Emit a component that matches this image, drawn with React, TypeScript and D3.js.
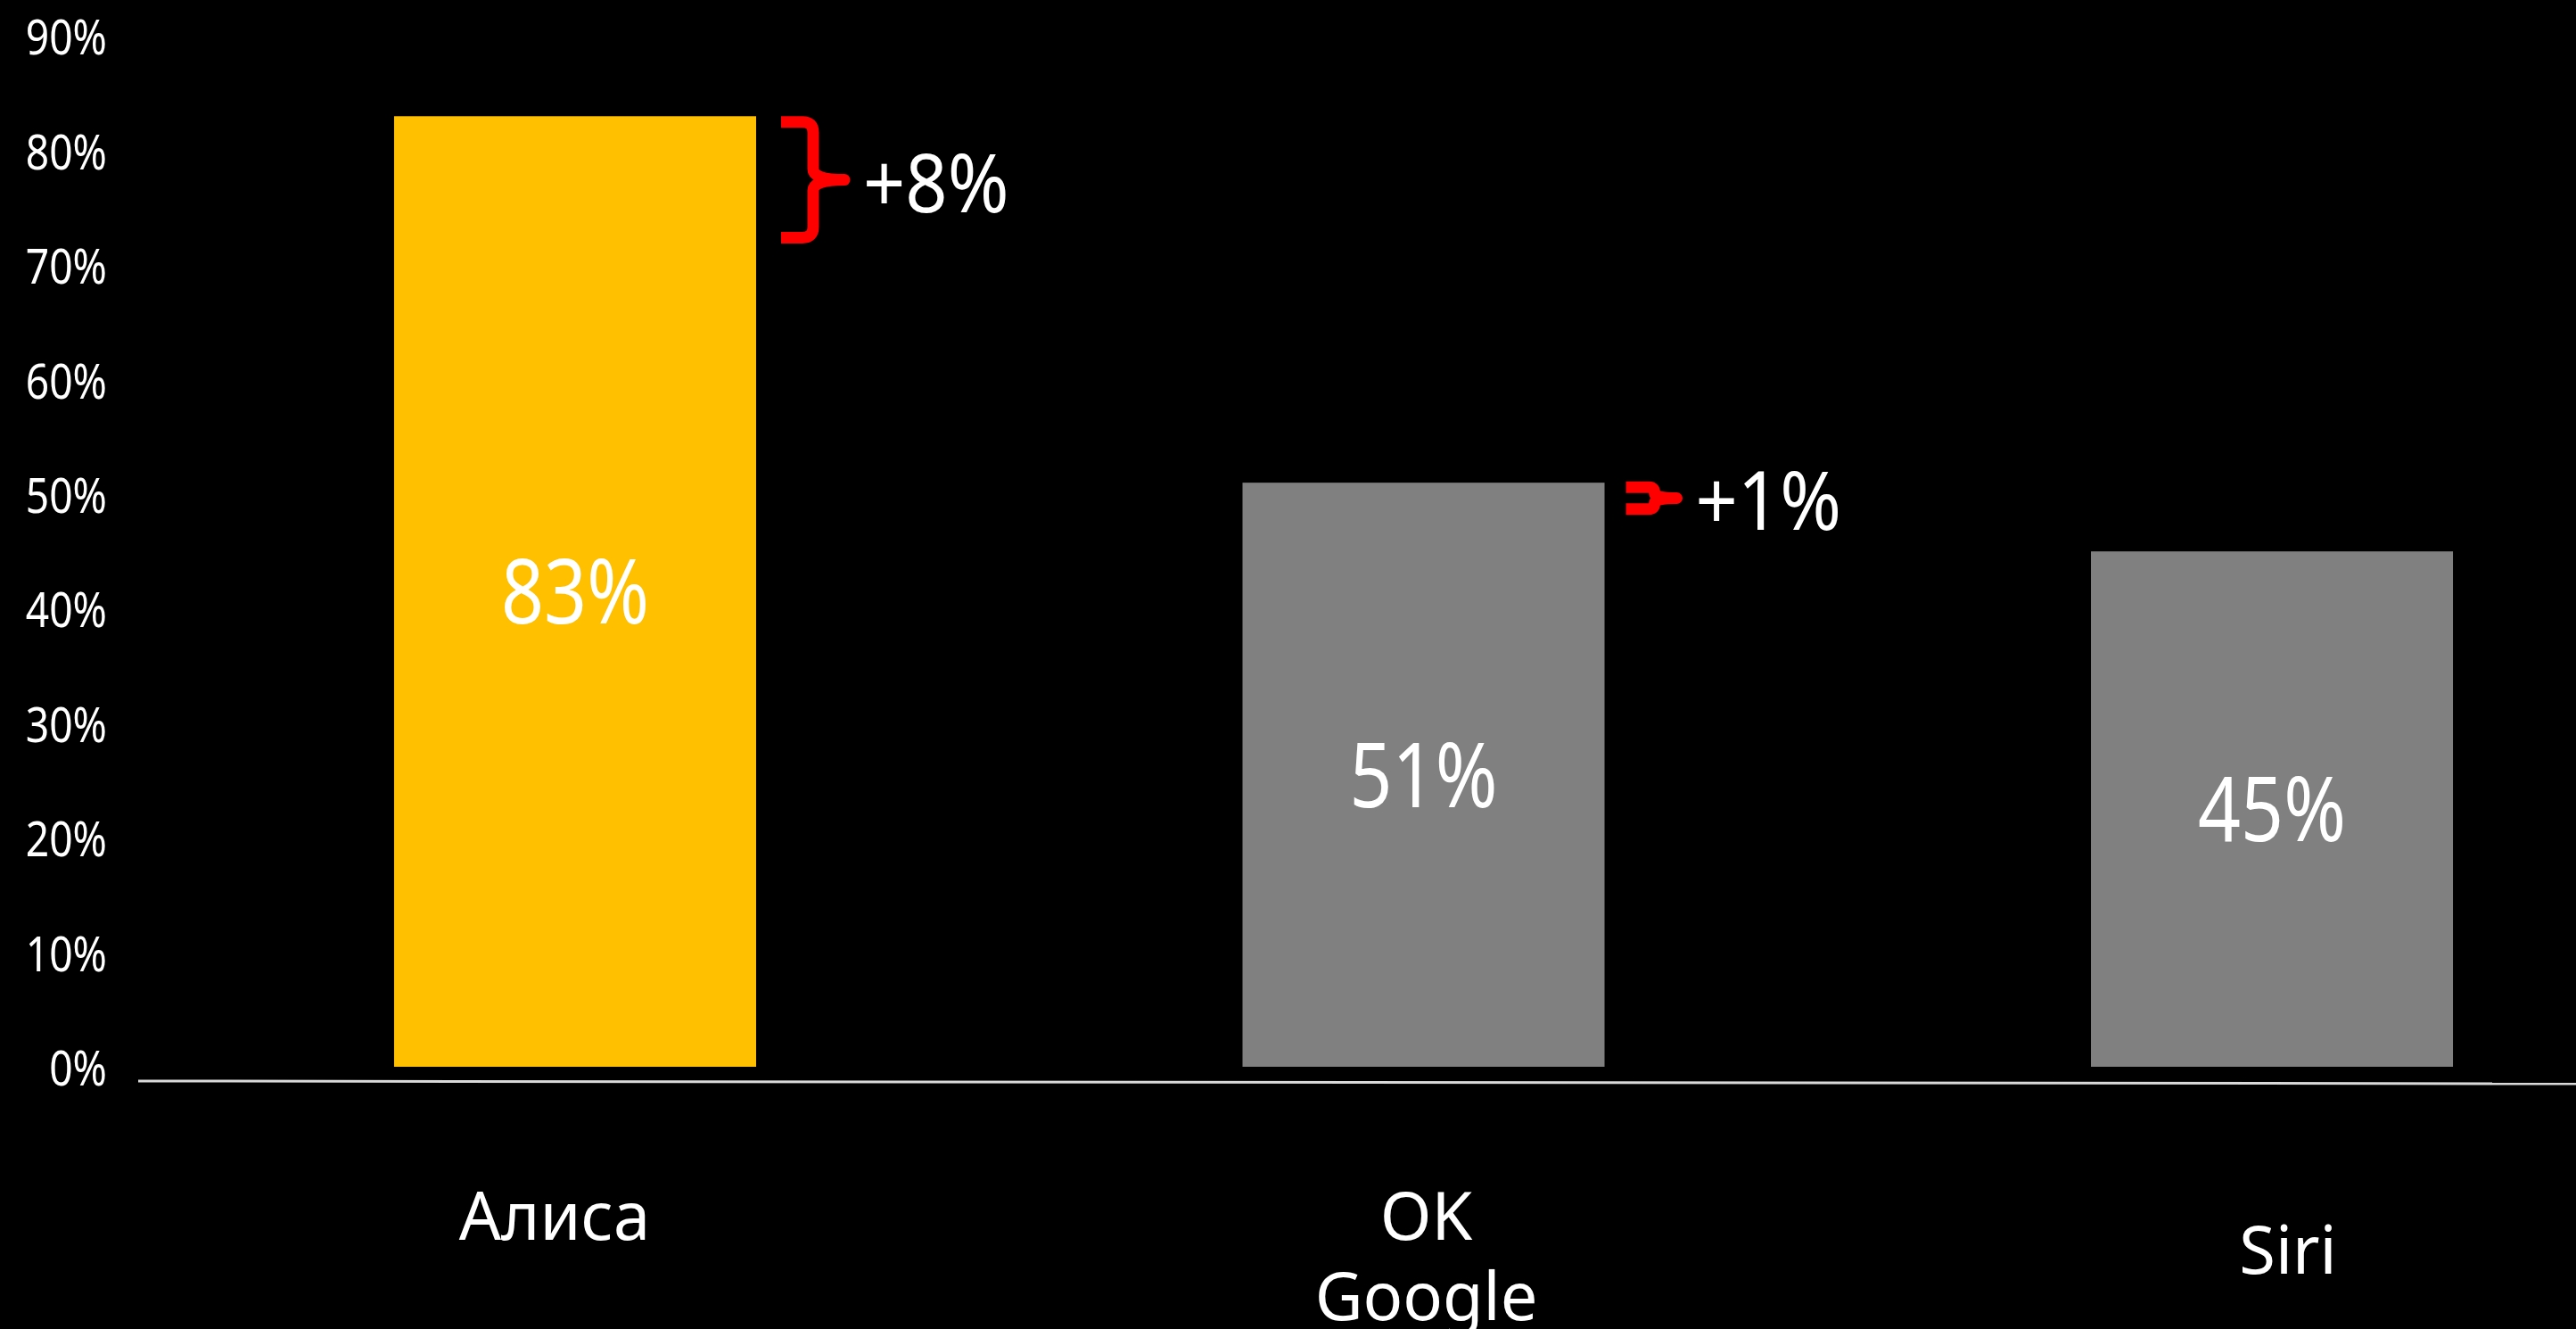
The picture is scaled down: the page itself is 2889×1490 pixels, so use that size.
import React from "react";
import * as d3 from "d3";

const categories = ["Алиса", "OK Google", "Siri"];
const categoryLines = [["Алиса"], ["OK", "Google"], ["Siri"]];
const values = [83, 51, 45];
const valueLabels = ["83%", "51%", "45%"];
const yTicks = [0, 10, 20, 30, 40, 50, 60, 70, 80, 90];
const deltaCategories = ["Алиса", "OK Google"];
const deltaTop = [82.5, 50.6];
const deltaBottom = [72.4, 48.7];
const deltaLabels = ["+8%", "+1%"];

const W = 2889;
const H = 1490;
const barColors = ["#FFC000", "#808080", "#808080"];
const labelDx = [-23, 3, 18];
const labelBaseline = [1390, 1390, 1428];
const braceGap = [28, 24];
const braceVert = [36, 32];
const braceTip = [77, 63];
const FONT = "'Noto Sans', 'Open Sans', sans-serif";

export default function App() {
  const y = d3.scaleLinear().domain([0, 90]).range([1196, 40.4]);
  const x = d3
    .scaleBand<string>()
    .domain(categories)
    .range([155, 3038])
    .paddingInner(0.5733)
    .paddingOuter(0.3016)
    .align(0.5);
  const bw = x.bandwidth();

  const bracePath = (x0: number, y0: number, y1: number, vx: number, tx: number) => {
    const xv = x0 + vx;
    const xt = x0 + tx;
    const ym = (y0 + y1) / 2;
    const r = Math.min(12, (y1 - y0) / 4);
    return (
      `M${x0},${y0} H${xv - r} Q${xv},${y0} ${xv},${y0 + r} V${ym - r} Q${xv},${ym} ${xt},${ym} ` +
      `M${xt},${ym} Q${xv},${ym} ${xv},${ym + r} V${y1 - r} Q${xv},${y1} ${xv - r},${y1} H${x0}`
    );
  };

  return (
    <div style={{ position: "fixed", left: 0, top: 0, width: W, height: H, background: "#000" }}>
      <svg width={W} height={H} style={{ display: "block" }}>
        <rect x={0} y={0} width={W} height={H} fill="#000" />
        {yTicks.map((t) => (
          <text
            key={t}
            transform={`translate(120,${y(t)}) scale(0.84,1)`}
            dy="0.38em"
            textAnchor="end"
            fill="#fff"
            fontSize={55}
            fontFamily={FONT}
          >
            {t}%
          </text>
        ))}
        <line x1={155} y1={1212} x2={W} y2={1215} stroke="#d9d9d9" strokeWidth={3} />
        {categories.map((c, i) => (
          <rect key={c} x={x(c)} y={y(values[i])} width={bw} height={y(0) - y(values[i])} fill={barColors[i]} />
        ))}
        {categories.map((c, i) => {
          const cy = (y(values[i]) + y(0)) / 2;
          return (
            <text
              key={c + "v"}
              transform={`translate(${(x(c) as number) + bw / 2},${cy + 36}) scale(0.84,1)`}
              textAnchor="middle"
              fill="#fff"
              fontSize={100}
              fontFamily={FONT}
            >
              {valueLabels[i]}
            </text>
          );
        })}
        {categories.map((c, i) => (
          <text
            key={c + "l"}
            x={(x(c) as number) + bw / 2 + labelDx[i]}
            y={labelBaseline[i]}
            textAnchor="middle"
            fill="#fff"
            fontSize={74}
            fontFamily={FONT}
          >
            {categoryLines[i].map((ln, j) => (
              <tspan key={j} x={(x(c) as number) + bw / 2 + labelDx[i]} dy={j === 0 ? 0 : 90}>
                {ln}
              </tspan>
            ))}
          </text>
        ))}
        {deltaCategories.map((c, i) => {
          const x0 = (x(c) as number) + bw + braceGap[i];
          const y0 = y(deltaTop[i]);
          const y1 = y(deltaBottom[i]);
          const ym = (y0 + y1) / 2;
          return (
            <g key={c + "d"}>
              <path
                d={bracePath(x0, y0, y1, braceVert[i], braceTip[i] - 6)}
                fill="none"
                stroke="#FF0000"
                strokeWidth={13}
                strokeLinejoin="round"
              />
              <circle cx={x0 + braceTip[i] - 6} cy={ym} r={6.5} fill="#FF0000" />
              <text
                transform={`translate(${x0 + braceTip[i] + 15},${ym + 36}) scale(0.9,1)`}
                fill="#fff"
                fontSize={92}
                fontFamily={FONT}
              >
                {deltaLabels[i]}
              </text>
            </g>
          );
        })}
      </svg>
    </div>
  );
}
